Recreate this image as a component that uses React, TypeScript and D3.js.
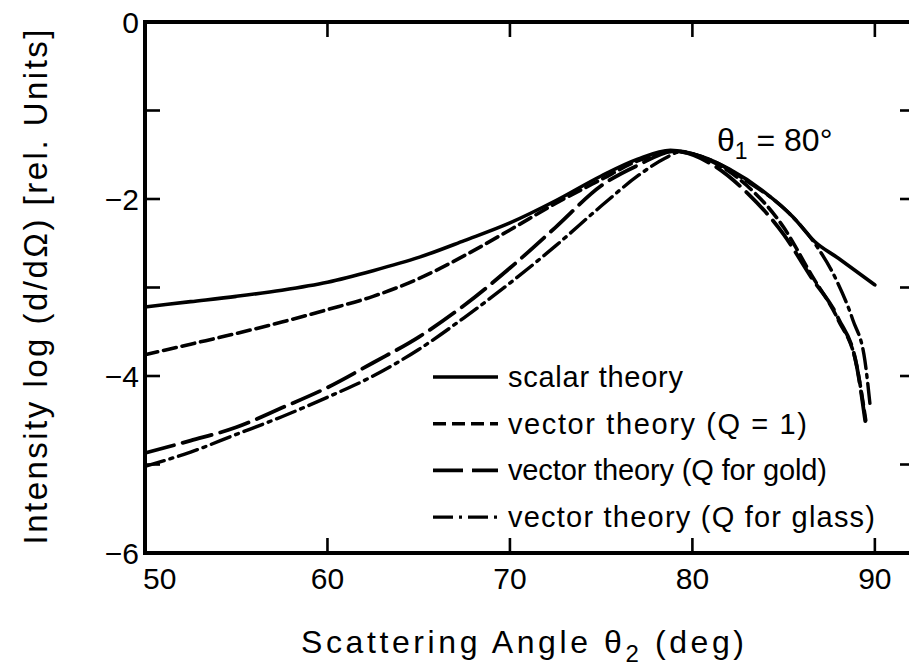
import React from "react";
import * as d3 from "d3";

const xTicks = [50, 60, 70, 80, 90];
const yTicksMajor = [0, -2, -4, -6];
const yTicksAll = [0, -1, -2, -3, -4, -5, -6];

const scalarX = [50, 52.5, 55, 57.5, 60, 62.5, 65, 67.5, 70, 72.5, 75, 77, 78.8, 80.5, 82, 84, 85.5, 86.7, 88, 90];
const scalarY = [-3.22, -3.16, -3.1, -3.03, -2.94, -2.81, -2.66, -2.47, -2.27, -2.02, -1.74, -1.55, -1.45, -1.52, -1.66, -1.93, -2.2, -2.48, -2.67, -2.97];

const q1X = [50, 52.5, 55, 57.5, 60, 62.5, 65, 67.5, 70, 72.5, 75, 77, 79, 81, 83, 85, 86.5, 88, 89, 89.5];
const q1Y = [-3.76, -3.64, -3.52, -3.39, -3.25, -3.1, -2.9, -2.64, -2.35, -2.05, -1.78, -1.57, -1.46, -1.57, -1.85, -2.32, -2.85, -3.37, -3.88, -4.5];

const goldX = [50, 52.5, 55, 57.5, 60, 62.5, 65, 67.5, 70, 72.5, 75, 77, 79, 81, 83, 85, 86.5, 88, 89, 89.5];
const goldY = [-4.87, -4.73, -4.58, -4.36, -4.13, -3.85, -3.56, -3.2, -2.78, -2.32, -1.85, -1.62, -1.46, -1.6, -1.93, -2.4, -2.88, -3.35, -3.88, -4.55];

const glassX = [50, 52.5, 55, 57.5, 60, 62.5, 65, 67.5, 70, 72.5, 75, 77, 78.5, 79.3, 81, 83, 85.3, 86.7, 87.9, 88.8, 89.45, 89.75];
const glassY = [-5.02, -4.86, -4.66, -4.46, -4.24, -4.0, -3.7, -3.34, -2.95, -2.53, -2.08, -1.74, -1.54, -1.47, -1.56, -1.8, -2.16, -2.5, -2.92, -3.37, -3.82, -4.35];

const seriesNames = [
  "scalar theory",
  "vector theory (Q = 1)",
  "vector theory (Q for gold)",
  "vector theory (Q for glass)",
];

export default function App() {
  const W = 909;
  const H = 670;
  const x = d3.scaleLinear().domain([50, 92.2]).range([145, 915]);
  const y = d3.scaleLinear().domain([-6, 0]).range([553, 22]);
  const font = "'Liberation Sans', Arial, Helvetica, sans-serif";

  const line = d3
    .line<[number, number]>()
    .x((d) => x(d[0]))
    .y((d) => y(d[1]))
    .curve(d3.curveMonotoneX);

  const zip = (xs: number[], ys: number[]) => xs.map((v, i) => [v, ys[i]] as [number, number]);

  const series = [
    { name: seriesNames[0], data: zip(scalarX, scalarY), dash: "none", width: 3.6, tl: 175 },
    { name: seriesNames[1], data: zip(q1X, q1Y), dash: "13 6", width: 3.6, tl: 299 },
    { name: seriesNames[2], data: zip(goldX, goldY), dash: "30 9", width: 3.8, tl: 319 },
    { name: seriesNames[3], data: zip(glassX, glassY), dash: "20 6 3 6", width: 3.4, tl: 367 },
  ];

  const x0 = x(50);
  const x1 = x(92.2);
  const yTop = y(0);
  const yBot = y(-6);
  const tickLen = 15;

  return (
    <svg
      width={W}
      height={H}
      style={{ position: "absolute", left: 0, top: 0, background: "#fff" }}
      fontFamily={font}
    >
      <rect x={0} y={0} width={W} height={H} fill="#fff" />
      {/* frame */}
      <g stroke="#000" strokeWidth={4} fill="none">
        <line x1={x0} y1={yTop} x2={x1} y2={yTop} />
        <line x1={x0} y1={yBot} x2={x1} y2={yBot} />
        <line x1={x0} y1={yTop - 2} x2={x0} y2={yBot + 2} />
        <line x1={x1} y1={yTop} x2={x1} y2={yBot} />
      </g>
      {/* ticks */}
      <g stroke="#000" strokeWidth={2.6}>
        {xTicks.filter((t) => t > 50).map((t) => (
          <g key={"xt" + t}>
            <line x1={x(t)} x2={x(t)} y1={yBot} y2={yBot - tickLen} />
            <line x1={x(t)} x2={x(t)} y1={yTop} y2={yTop + tickLen} />
          </g>
        ))}
        {yTicksAll.filter((t) => t > -6 && t < 0).map((t) => (
          <g key={"yt" + t}>
            <line x1={x0} x2={x0 + tickLen} y1={y(t)} y2={y(t)} />
            <line x1={x1} x2={x1 - tickLen} y1={y(t)} y2={y(t)} />
          </g>
        ))}
      </g>
      {/* tick labels */}
      <g fontSize={30} fill="#000">
        {xTicks.map((t) => (
          <text
            key={"xl" + t}
            x={t === 50 ? x(t) - 2 : x(t)}
            y={589}
            textAnchor={t === 50 ? "start" : "middle"}
          >
            {t}
          </text>
        ))}
        {yTicksMajor.map((t) => (
          <text key={"yl" + t} x={139} y={y(t) + 11} textAnchor="end">
            {t === 0 ? "0" : "\u2212" + Math.abs(t)}
          </text>
        ))}
      </g>
      {/* curves */}
      <g fill="none" stroke="#000" strokeLinecap="round">
        {series.map((s) => (
          <path
            key={s.name}
            d={line(s.data) || ""}
            strokeWidth={s.width}
            strokeDasharray={s.dash}
          />
        ))}
      </g>
      {/* legend */}
      <g>
        {series.map((s, i) => {
          const ly = 377 + i * 46.7;
          return (
            <g key={"lg" + i}>
              <line
                x1={433}
                x2={498}
                y1={ly}
                y2={ly}
                stroke="#000"
                strokeWidth={s.width}
                strokeDasharray={s.dash}
              />
              <text
                x={508}
                y={ly + 10}
                fontSize={29}
                textLength={s.tl}
                lengthAdjust="spacing"
                fill="#000"
              >
                {s.name}
              </text>
            </g>
          );
        })}
      </g>
      {/* annotation */}
      <text x={717} y={151} fontSize={32} fill="#000">
        θ<tspan fontSize={23} dy={8}>1</tspan>
        <tspan dy={-8}> = 80°</tspan>
      </text>
      {/* axis titles */}
      <text x={301} y={653} fontSize={32} textLength={443} lengthAdjust="spacing" fill="#000">
        Scattering  Angle θ<tspan fontSize={24} dy={9}>2</tspan>
        <tspan dy={-9}> (deg)</tspan>
      </text>
      <text
        transform={`translate(47, 287) rotate(-90)`}
        textAnchor="middle"
        fontSize={33}
        fill="#000"
        textLength={515}
        lengthAdjust="spacing"
      >
        Intensity  log (d/dΩ) [rel. Units]
      </text>
    </svg>
  );
}
